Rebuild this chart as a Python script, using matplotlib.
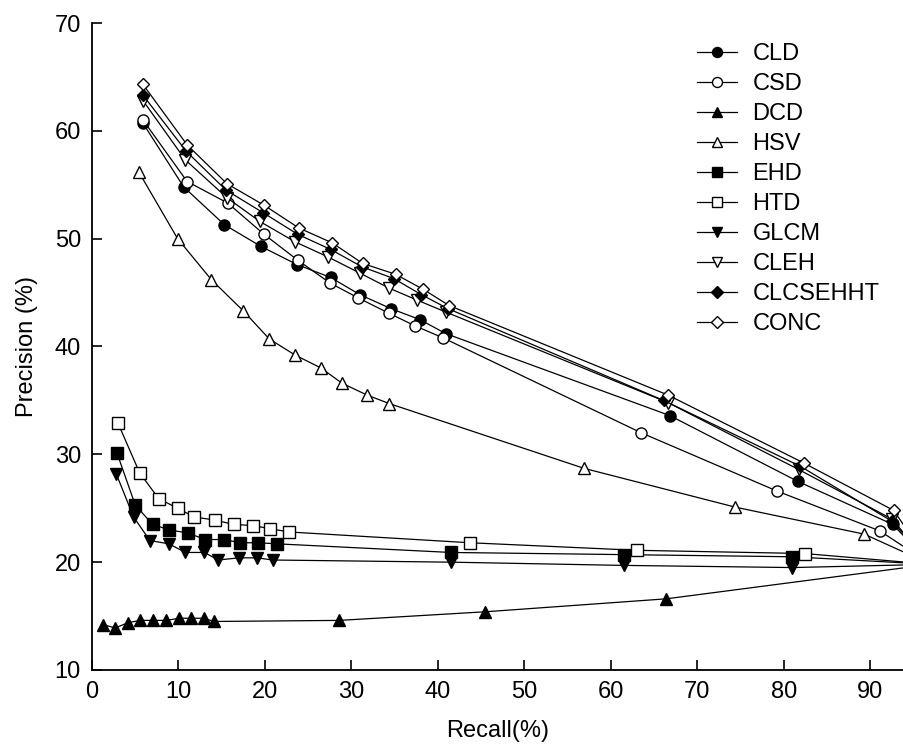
import matplotlib
matplotlib.use("Agg")
import matplotlib.pyplot as plt

plt.rcParams['font.family'] = ['Liberation Sans', 'DejaVu Sans']

# recall (%) / precision (%)
cld_x = [5.9, 10.6, 15.3, 19.5, 23.7, 27.6, 31.0, 34.6, 37.9, 40.9, 66.8, 81.6, 92.6, 97]
cld_y = [60.7, 54.8, 51.3, 49.3, 47.6, 46.4, 44.8, 43.5, 42.5, 41.2, 33.6, 27.5, 23.5, 19.8]

csd_x = [5.9, 11.0, 15.7, 19.9, 23.8, 27.5, 30.8, 34.3, 37.4, 40.6, 63.5, 79.2, 91.1, 97]
csd_y = [61.0, 55.3, 53.3, 50.4, 48.0, 45.9, 44.5, 43.1, 41.9, 40.8, 32.0, 26.6, 22.9, 19.8]

dcd_x = [1.3, 2.7, 4.2, 5.6, 7.0, 8.6, 10.1, 11.5, 12.9, 14.1, 28.6, 45.5, 66.4, 97]
dcd_y = [14.2, 13.9, 14.4, 14.6, 14.6, 14.6, 14.8, 14.8, 14.8, 14.5, 14.6, 15.4, 16.6, 19.8]

hsv_x = [5.4, 9.9, 13.8, 17.5, 20.5, 23.5, 26.5, 28.9, 31.8, 34.4, 56.9, 74.4, 89.3, 97]
hsv_y = [56.2, 50.0, 46.2, 43.3, 40.7, 39.2, 38.0, 36.6, 35.5, 34.7, 28.7, 25.1, 22.6, 19.8]

ehd_x = [2.9, 5.0, 7.0, 8.9, 11.1, 13.1, 15.3, 17.1, 19.2, 21.4, 41.5, 61.5, 81.0, 97]
ehd_y = [30.1, 25.3, 23.5, 23.0, 22.7, 22.1, 22.1, 21.8, 21.8, 21.7, 20.9, 20.7, 20.5, 19.8]

htd_x = [3.0, 5.5, 7.7, 9.9, 11.8, 14.2, 16.4, 18.6, 20.6, 22.8, 43.7, 63.0, 82.4, 97]
htd_y = [32.9, 28.3, 25.9, 25.0, 24.2, 23.9, 23.5, 23.4, 23.1, 22.8, 21.8, 21.1, 20.8, 19.8]

glcm_x = [2.8, 4.8, 6.7, 8.9, 10.8, 13.0, 14.6, 17.0, 19.1, 20.9, 41.5, 61.5, 81.0, 97]
glcm_y = [28.2, 24.2, 22.0, 21.7, 20.9, 20.9, 20.2, 20.4, 20.4, 20.2, 20.0, 19.7, 19.5, 19.8]

cleh_x = [5.9, 10.8, 15.6, 19.4, 23.5, 27.3, 31.0, 34.4, 37.6, 40.9, 66.6, 81.7, 92.5, 97]
cleh_y = [62.8, 57.3, 53.8, 51.6, 49.7, 48.3, 46.8, 45.4, 44.3, 43.2, 34.8, 28.6, 24.0, 19.8]

comb_x = [5.9, 10.9, 15.5, 19.8, 23.8, 27.6, 31.2, 34.9, 38.1, 41.2, 66.1, 81.9, 92.5, 97]
comb_y = [63.3, 58.1, 54.5, 52.4, 50.4, 49.0, 47.4, 46.3, 44.8, 43.5, 35.0, 28.9, 23.8, 19.8]

conc_x = [5.9, 11.0, 15.6, 19.9, 23.9, 27.8, 31.3, 35.1, 38.3, 41.3, 66.6, 82.3, 92.7, 97]
conc_y = [64.3, 58.7, 55.1, 53.1, 51.0, 49.6, 47.7, 46.7, 45.3, 43.8, 35.5, 29.2, 24.8, 19.8]

series = [
    ('CLD', cld_x, cld_y, 'o', 'black', 8),
    ('CSD', csd_x, csd_y, 'o', 'white', 8),
    ('DCD', dcd_x, dcd_y, '^', 'black', 8),
    ('HSV', hsv_x, hsv_y, '^', 'white', 8),
    ('EHD', ehd_x, ehd_y, 's', 'black', 8),
    ('HTD', htd_x, htd_y, 's', 'white', 8),
    ('GLCM', glcm_x, glcm_y, 'v', 'black', 8),
    ('CLEH', cleh_x, cleh_y, 'v', 'white', 8),
    ('CLCSEHHT', comb_x, comb_y, 'D', 'black', 6.5),
    ('CONC', conc_x, conc_y, 'D', 'white', 6.5),
]

fig = plt.figure(figsize=(9.04, 7.44), dpi=100)
ax = fig.add_axes([92 / 904, 1 - 670 / 744, 1 - 92 / 904, (670 - 23) / 744])

for name, xs, ys, mk, face, ms in series:
    ax.plot(xs, ys, color='black', lw=0.9, marker=mk, markersize=ms,
            markerfacecolor=face, markeredgecolor='black', markeredgewidth=1.0,
            label=name)

ax.set_xlim(0, 93.9)
ax.set_ylim(10, 70)
ax.set_xticks(range(0, 100, 10))
ax.set_yticks(range(10, 80, 10))
ax.spines['top'].set_visible(False)
ax.spines['right'].set_visible(False)
ax.spines['left'].set_linewidth(1.3)
ax.spines['bottom'].set_linewidth(1.3)
ax.tick_params(direction='in', length=7, width=1.2, labelsize=17, pad=8)

ax.set_xlabel('Recall(%)', fontsize=17, labelpad=12)
ax.set_ylabel('Precision (%)', fontsize=17, labelpad=12)

ax.legend(loc='upper left', bbox_to_anchor=(697 / 904, 1 - 43 / 744),
          bbox_transform=fig.transFigure, frameon=False, fontsize=17,
          handlelength=1.7, handletextpad=0.65, labelspacing=0.34,
          borderpad=0, borderaxespad=0, markerscale=0.9)

fig.savefig('out.png', dpi=100)
